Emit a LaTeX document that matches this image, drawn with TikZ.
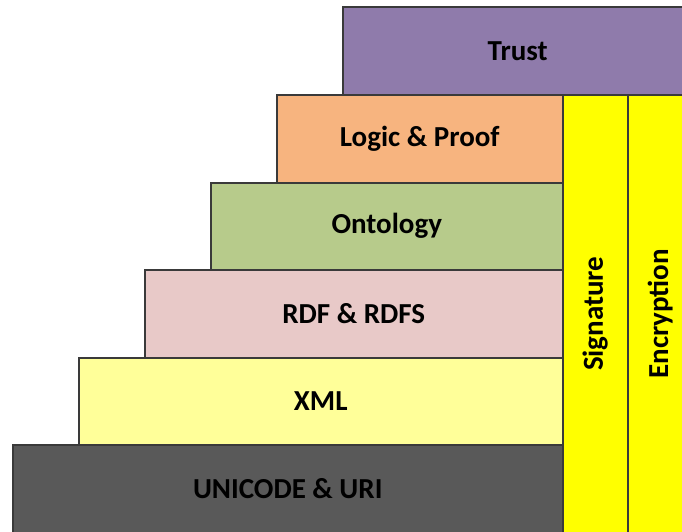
\documentclass[tikz,border=0pt]{standalone}
\usepackage{fontspec}
\setmainfont{Carlito}
\definecolor{trustc}{HTML}{8F7BAB}
\definecolor{logicc}{HTML}{F7B47F}
\definecolor{ontoc}{HTML}{B7CB8B}
\definecolor{rdfc}{HTML}{E8C9C8}
\definecolor{xmlc}{HTML}{FFFF99}
\definecolor{unic}{HTML}{595959}
\definecolor{secc}{HTML}{FFFF00}
\definecolor{edgec}{HTML}{3A3A3A}
\begin{document}
\begin{tikzpicture}[x=1pt,y=-1pt,
  lbl/.style={font=\fontsize{29}{33}\selectfont\bfseries,text=black},
  layer/.style={lbl,draw=edgec,line width=1.5pt,rectangle,anchor=north west,inner sep=0pt},
  column/.style={layer,fill=secc}]
\useasboundingbox (0,0) rectangle (682,531);
\clip (0,0) rectangle (682,531);
\node[layer,fill=trustc,minimum width=350pt,minimum height=88pt] (trust) at (342,6) {Trust};
\node[layer,fill=logicc,minimum width=286pt,minimum height=88pt] (logic) at (276,94) {Logic \& Proof};
\node[layer,fill=ontoc,minimum width=352pt,minimum height=87pt] (onto) at (210,182) {Ontology};
\node[layer,fill=rdfc,minimum width=418pt,minimum height=88pt] (rdf) at (144,269) {RDF \& RDFS};
\node[layer,fill=xmlc,minimum width=484pt,minimum height=87pt] (xml) at (78,357) {XML};
\node[layer,fill=unic,minimum width=550pt,minimum height=88pt] (uni) at (12,444) {UNICODE \& URI};
\node[column,minimum width=65pt,minimum height=438pt] (sig) at (562,94) {};
\node[column,minimum width=65pt,minimum height=438pt] (enc) at (627,94) {};
\node[lbl,rotate=90] (sigt) at (sig.center) {Signature};
\node[lbl,rotate=90] (enct) at (enc.center) {Encryption};
\end{tikzpicture}
\end{document}
